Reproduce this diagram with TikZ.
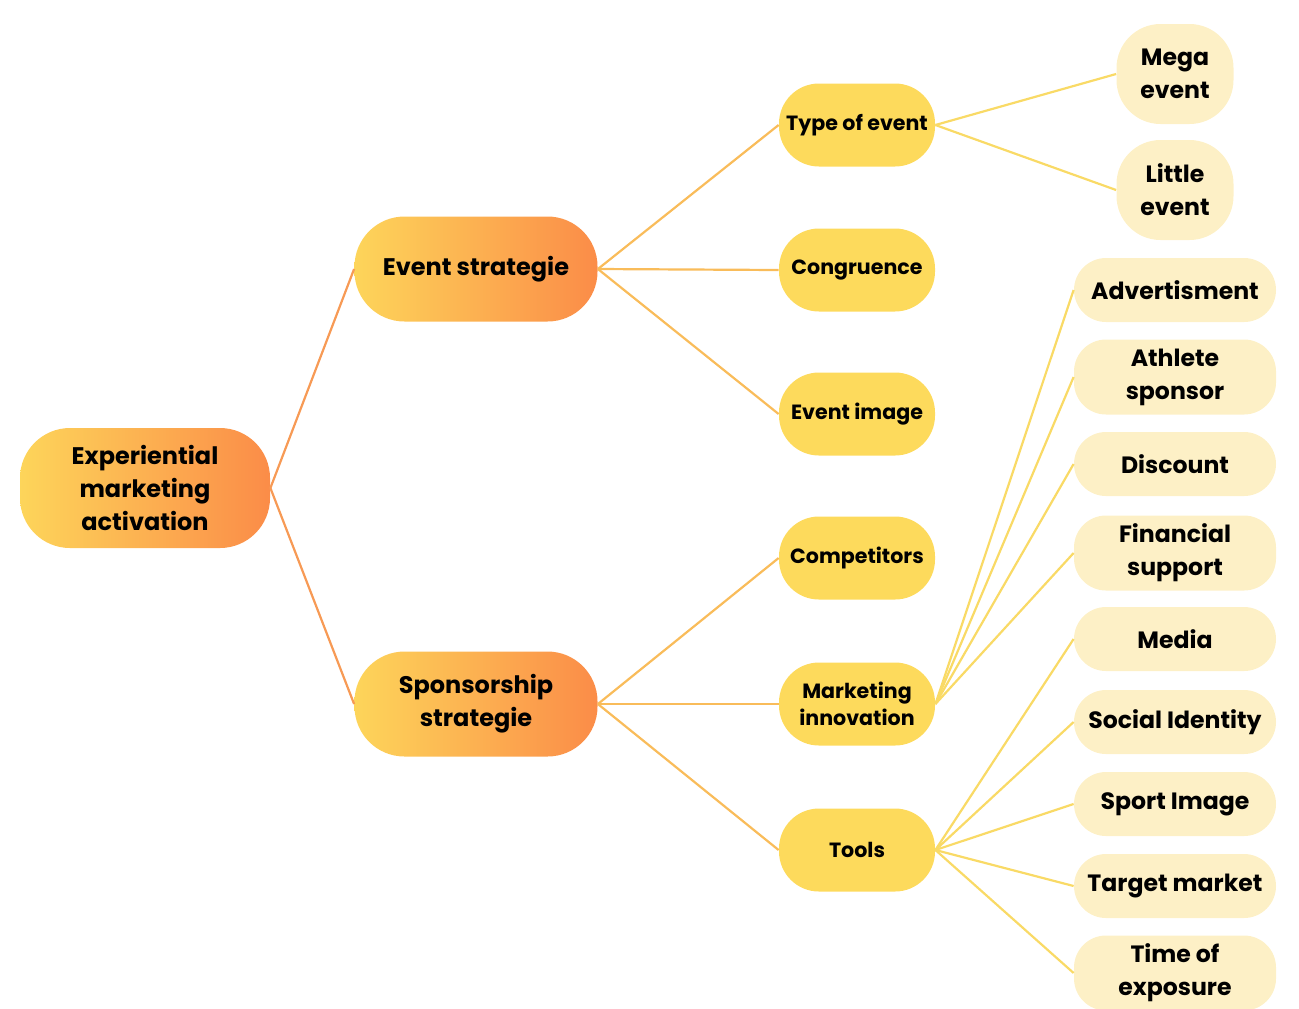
\documentclass[tikz,border=0pt]{standalone}
\usepackage{fontspec}
\setmainfont{Poppins}
\definecolor{sunY}{HTML}{FDD55A}
\definecolor{sunO}{HTML}{FB8C48}
\definecolor{topicY}{HTML}{FDDA5C}
\definecolor{leafY}{HTML}{FDF0C6}
\definecolor{rootLine}{HTML}{F79A55}
\definecolor{midLine}{HTML}{F9BC5A}
\definecolor{leafLine}{HTML}{F9DA66}

\begin{document}
\begin{tikzpicture}[
    x=0.5pt, y=-0.5pt,
    root/.style={rectangle, rounded corners=25pt, left color=sunY, right color=sunO, minimum width=125pt, minimum height=60pt, align=center, inner sep=0pt, font=\bfseries\fontsize{12}{16.5}\selectfont},
    branch/.style={root, minimum width=121.5pt, minimum height=52.5pt},
    topic/.style={rectangle, rounded corners=20pt, fill=topicY, minimum width=78pt, minimum height=41.5pt, align=center, inner sep=0pt, font=\bfseries\fontsize{10.3}{13.5}\selectfont},
    leaf/.style={rectangle, rounded corners=16pt, fill=leafY, minimum width=101pt, minimum height=32pt, align=center, inner sep=0pt, font=\bfseries\fontsize{11.8}{16.5}\selectfont},
    link/.style={line width=1.1pt, rootLine},
    sublink/.style={line width=1.1pt, midLine},
    leaflink/.style={line width=1.1pt, leafLine}
  ]
    \useasboundingbox (0,0) rectangle (1299,1008);

    % main branches
    \node[root] (exp) at (145,488) {Experiential\\marketing\\activation};
    \node[branch] (event) at (476,269) {Event strategie};
    \node[branch] (spons) at (476,704) {Sponsorship\\strategie};

    % topics
    \node[topic] (type) at (857,125) {Type of event};
    \node[topic] (congr) at (857,270) {Congruence};
    \node[topic] (eimg) at (857,414) {Event image};
    \node[topic] (comp) at (857,558) {Competitors};
    \node[topic] (innov) at (857,704) {Marketing\\innovation};
    \node[topic] (tools) at (857,850) {Tools};

    % leaves
    \node[leaf, minimum width=58.5pt, minimum height=50pt, rounded corners=22pt] (mega) at (1175,74) {Mega\\event};
    \node[leaf, minimum width=58.5pt, minimum height=50pt, rounded corners=22pt] (little) at (1175,190) {Little\\event};
    \foreach \name/\y/\h/\txt in {adv/290/32/Advertisment, ath/377/37.5/{Athlete\\sponsor}, disc/464/32/Discount,
        fin/553/37.5/{Financial\\support}, media/639/32/Media, social/722/32/Social Identity,
        sport/804/32/Sport Image, target/886/32/Target market, time/973/37.5/{Time of\\exposure}} {
      \node[leaf, minimum height=\h pt] (\name) at (1175,\y) {\txt};
    }

    % connectors
    \draw[link] (exp.east) -- (event.west);
    \draw[link] (exp.east) -- (spons.west);
    \foreach \n in {type,congr,eimg} \draw[sublink] (event.east) -- (\n.west);
    \foreach \n in {comp,innov,tools} \draw[sublink] (spons.east) -- (\n.west);
    \foreach \n in {mega,little} \draw[leaflink] (type.east) -- (\n.west);
    \foreach \n in {adv,ath,disc,fin} \draw[leaflink] (innov.east) -- (\n.west);
    \foreach \n in {media,social,sport,target,time} \draw[leaflink] (tools.east) -- (\n.west);
  \end{tikzpicture}
\end{document}
